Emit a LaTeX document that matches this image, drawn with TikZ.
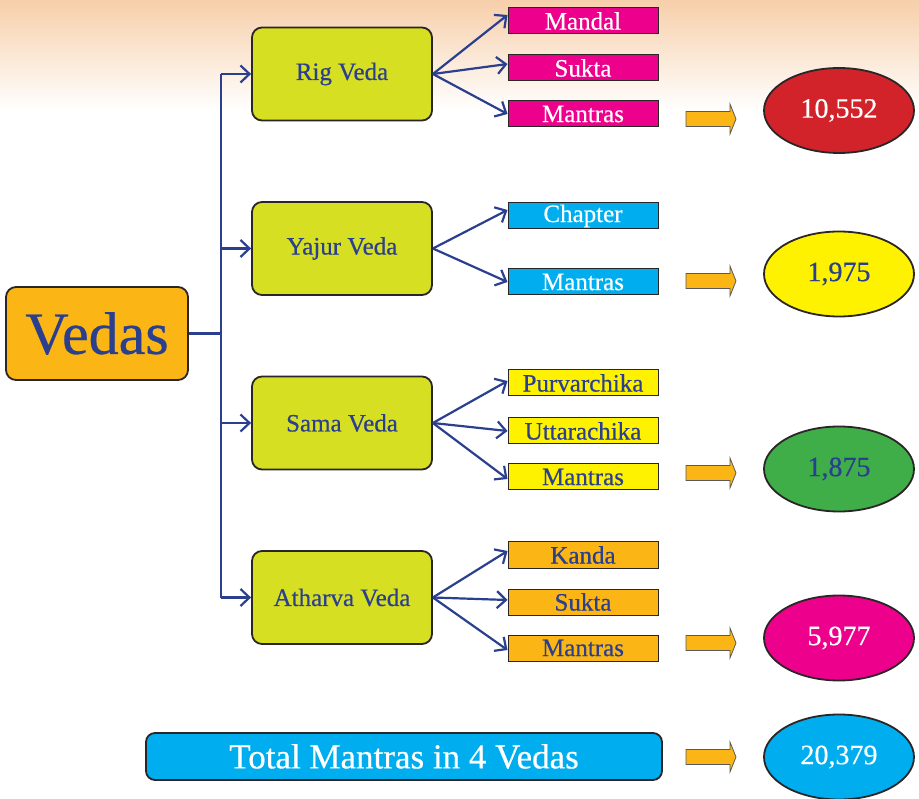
\documentclass[tikz,border=0pt]{standalone}
\usepackage{fontspec}
\setmainfont{Liberation Serif}[FakeBold=0.5]
\usetikzlibrary{arrows.meta,shapes.geometric}
\definecolor{vmag}{HTML}{EC008C}
\definecolor{vcyan}{HTML}{00AEEF}
\definecolor{vyel}{HTML}{FFF200}
\definecolor{vora}{HTML}{FBB515}
\definecolor{vlime}{HTML}{D7DF23}
\definecolor{vred}{HTML}{D2232A}
\definecolor{vgreen}{HTML}{3FAE49}
\definecolor{vblue}{HTML}{2B3F8F}
\definecolor{vedge}{HTML}{2A2526}
\definecolor{vpeach}{HTML}{F7CFAA}
\tikzset{
  vedabox/.style={draw=vedge,line width=1.8pt,rounded corners=10pt,fill=vlime,
    minimum width=180pt,minimum height=93pt,inner sep=0pt,text=vblue,font=\fontsize{25}{28}\selectfont},
  partbox/.style={draw=vedge,line width=1pt,minimum width=150pt,minimum height=26pt,inner sep=0pt,
    font=\fontsize{25}{26}\selectfont},
  numell/.style={ellipse,draw=vedge,line width=1.8pt,minimum width=150pt,minimum height=85pt,inner sep=0pt,
    font=\fontsize{28}{30}\selectfont},
  blockarrow/.pic={\draw[draw=black!65,fill=vora,line width=0.8pt,line join=miter]
    (-25,-7.5) -- (19,-7.5) -- (19,-15) -- (25,0) -- (19,15) -- (19,7.5) -- (-25,7.5) -- cycle;},
  conn/.style={draw=vblue,line width=2.2pt},
  arr/.style={conn,-{Straight Barb[length=9pt,width=17pt,line width=2.2pt]}}
}
\begin{document}
\begin{tikzpicture}[x=1pt,y=-1pt]
\useasboundingbox (0,0) rectangle (919,799);
\fill[white] (0,0) rectangle (919,799);
\shade[top color=vpeach,bottom color=white] (0,0) rectangle (919,110);
% main box
\node[draw=vedge,line width=1.8pt,rounded corners=10pt,fill=vora,minimum width=182pt,minimum height=93pt,
  inner sep=0pt,text=vblue,font=\fontsize{60}{60}\selectfont] (vedas) at (97,333.5) {Vedas};
% veda boxes
\node[vedabox] (rig) at (342,74) {Rig Veda};
\node[vedabox] (yajur) at (342,248.5) {Yajur Veda};
\node[vedabox] (sama) at (342,423) {Sama Veda};
\node[vedabox] (atharva) at (342,597.5) {Atharva Veda};
% trunk
\coordinate (tj) at (221,333.5);
\coordinate (tt) at (221,74);
\coordinate (tb) at (221,597.5);
\draw[conn] (vedas.east) -- (tj);
\draw[conn] (tt) -- (tb);
\draw[arr] (tt) -- (rig.west);
\draw[arr] (tj |- yajur.west) -- (yajur.west);
\draw[arr] (tj |- sama.west) -- (sama.west);
\draw[arr] (tb) -- (atharva.west);
% part boxes
\node[partbox,fill=vmag,text=white] (mandal) at (583,21) {Mandal};
\node[partbox,fill=vmag,text=white] (rsukta) at (583,68) {Sukta};
\node[partbox,fill=vmag,text=white] (rmantra) at (583,114) {Mantras};
\node[partbox,fill=vcyan,text=white] (chapter) at (583,216) {Chapter};
\node[partbox,fill=vcyan,text=white] (ymantra) at (583,282) {Mantras};
\node[partbox,fill=vyel,text=vblue] (purva) at (583,383) {Purvarchika};
\node[partbox,fill=vyel,text=vblue] (uttara) at (583,431) {Uttarachika};
\node[partbox,fill=vyel,text=vblue] (smantra) at (583,477) {Mantras};
\node[partbox,fill=vora,text=vblue] (kanda) at (583,555) {Kanda};
\node[partbox,fill=vora,text=vblue] (asukta) at (583,602) {Sukta};
\node[partbox,fill=vora,text=vblue] (amantra) at (583,648) {Mantras};
% connectors
\draw[arr] (rig.east) -- ([yshift=6pt]mandal.west);
\draw[arr] (rig.east) -- ([yshift=4pt]rsukta.west);
\draw[arr] (rig.east) -- (rmantra.west);
\draw[arr] (yajur.east) -- ([yshift=6pt]chapter.west);
\draw[arr] (yajur.east) -- (ymantra.west);
\draw[arr] (sama.east) -- ([yshift=2pt]purva.west);
\draw[arr] (sama.east) -- (uttara.west);
\draw[arr] (sama.east) -- ([yshift=-2pt]smantra.west);
\draw[arr] (atharva.east) -- ([yshift=4pt]kanda.west);
\draw[arr] (atharva.east) -- ([yshift=2pt]asukta.west);
\draw[arr] (atharva.east) -- ([yshift=-2pt]amantra.west);
% block arrows
\pic at (711,119) {blockarrow};
\pic at (711,281) {blockarrow};
\pic at (711,473) {blockarrow};
\pic at (711,643) {blockarrow};
\pic at (711,757) {blockarrow};
% ellipses
\node[numell,fill=vred,text=white] (e1) at (839,110.5) {10,552};
\node[numell,fill=vyel,text=vblue] (e2) at (839,274) {1,975};
\node[numell,fill=vgreen,text=vblue] (e3) at (839,469) {1,875};
\node[numell,fill=vmag,text=white] (e4) at (839,638) {5,977};
\node[numell,fill=vcyan,text=white] (e5) at (839,757) {20,379};
% total
\node[draw=vedge,line width=1.8pt,rounded corners=9pt,fill=vcyan,minimum width=516pt,minimum height=47pt,
  inner sep=0pt,text=white,font=\fontsize{35}{36}\selectfont] (total) at (404,756.5) {Total Mantras in 4 Vedas};
\end{tikzpicture}
\end{document}
